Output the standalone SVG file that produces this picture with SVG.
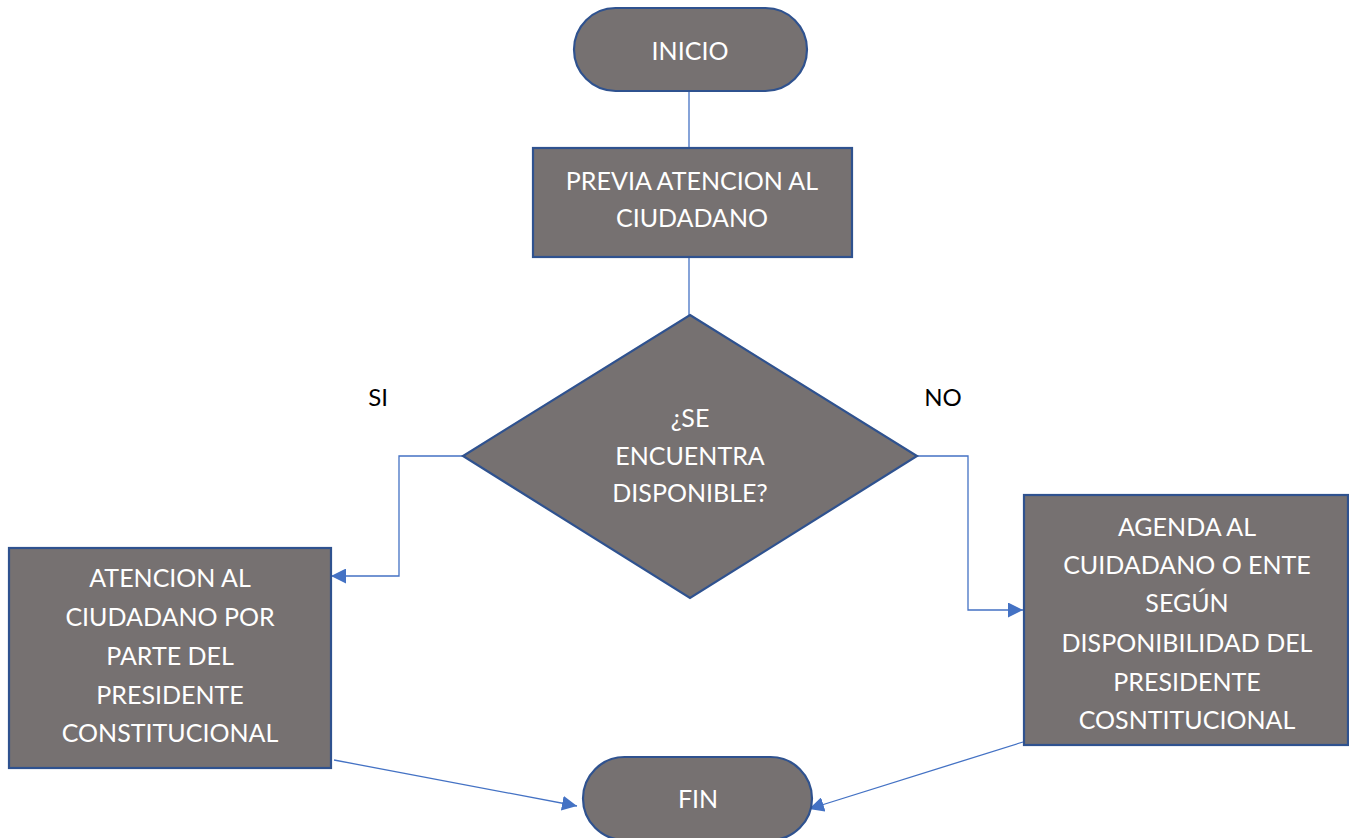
<svg xmlns="http://www.w3.org/2000/svg" width="1349" height="838" viewBox="0 0 1349 838">
  <style>
    .shape { fill: #767171; stroke: #2F528F; stroke-width: 2.2; }
    .lbl { font-family: Lato, "Open Sans", sans-serif; font-size: 25px; fill: #ffffff; text-anchor: middle; }
    .side { font-family: Lato, "Open Sans", sans-serif; font-size: 24px; fill: #000000; text-anchor: middle; }
    .conn { fill: none; stroke: #4472C4; stroke-width: 1.3; }
  </style>
  <defs>
    <marker id="arrow" viewBox="0 0 10 10" refX="10" refY="5" markerWidth="10" markerHeight="10" markerUnits="userSpaceOnUse" orient="auto">
      <path d="M0,0 L10,5 L0,10 Z" fill="#4472C4"/>
    </marker>
    <marker id="arrowL" viewBox="0 0 10 10" refX="10" refY="5" markerWidth="15" markerHeight="15" markerUnits="userSpaceOnUse" orient="auto">
      <path d="M0,0 L10,5 L0,10 Z" fill="#4472C4"/>
    </marker>
  </defs>

  <!-- connectors -->
  <g id="connectors">
    <line class="conn" x1="689" y1="91" x2="689" y2="148"/>
    <line class="conn" x1="689" y1="257" x2="689" y2="315"/>
    <polyline class="conn" points="463,456 399,456 399,576 331,576" marker-end="url(#arrowL)"/>
    <polyline class="conn" points="917,456 968,456 968,610 1023,610" marker-end="url(#arrowL)"/>
    <line class="conn" x1="334" y1="760" x2="577" y2="806" marker-end="url(#arrowL)"/>
    <line class="conn" x1="1023" y1="742" x2="809" y2="809" marker-end="url(#arrowL)"/>
  </g>

  <g id="inicio">
    <rect class="shape" x="574" y="8" width="233" height="83" rx="41.5" ry="41.5"/>
    <text class="lbl" x="690" y="60">INICIO</text>
  </g>

  <g id="previa">
    <rect class="shape" x="533" y="148" width="319" height="109"/>
    <text class="lbl" x="692" y="190">PREVIA ATENCION AL</text>
    <text class="lbl" x="692" y="227">CIUDADANO</text>
  </g>

  <g id="decision">
    <polygon class="shape" points="690,315 917,456 690,598 463,456"/>
    <text class="lbl" x="690" y="427">¿SE</text>
    <text class="lbl" x="690" y="465">ENCUENTRA</text>
    <text class="lbl" x="690" y="502">DISPONIBLE?</text>
  </g>

  <g id="label-si">
    <text class="side" x="378" y="406">SI</text>
  </g>
  <g id="label-no">
    <text class="side" x="943" y="406">NO</text>
  </g>

  <g id="atencion">
    <rect class="shape" x="9" y="548" width="322" height="220"/>
    <text class="lbl" x="170" y="587">ATENCION AL</text>
    <text class="lbl" x="170" y="626">CIUDADANO POR</text>
    <text class="lbl" x="170" y="665">PARTE DEL</text>
    <text class="lbl" x="170" y="704">PRESIDENTE</text>
    <text class="lbl" x="170" y="742">CONSTITUCIONAL</text>
  </g>

  <g id="agenda">
    <rect class="shape" x="1024" y="495" width="324" height="250"/>
    <text class="lbl" x="1187" y="536">AGENDA AL</text>
    <text class="lbl" x="1187" y="574">CUIDADANO O ENTE</text>
    <text class="lbl" x="1187" y="612">SEGÚN</text>
    <text class="lbl" x="1187" y="652">DISPONIBILIDAD DEL</text>
    <text class="lbl" x="1187" y="691">PRESIDENTE</text>
    <text class="lbl" x="1187" y="729">COSNTITUCIONAL</text>
  </g>

  <g id="fin">
    <rect class="shape" x="583" y="757" width="229" height="83" rx="41.5" ry="41.5"/>
    <text class="lbl" x="698" y="808">FIN</text>
  </g>
</svg>
